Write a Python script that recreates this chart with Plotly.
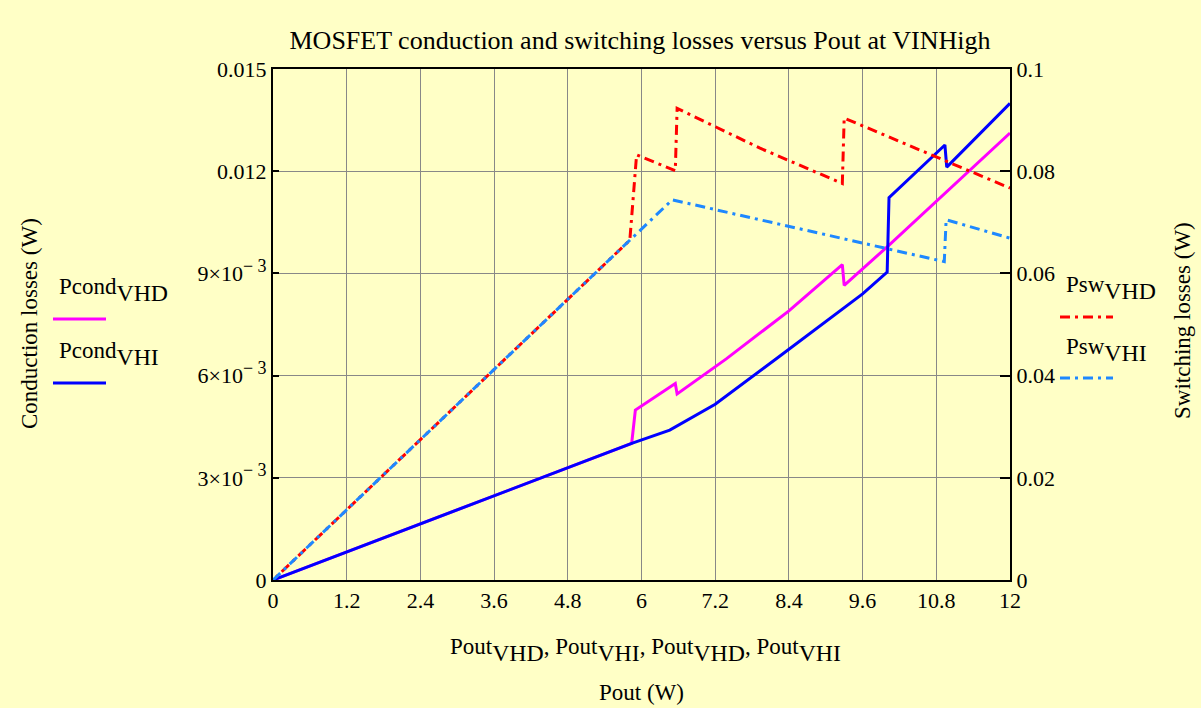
import plotly.graph_objects as go

# Conduction losses (left axis, W)
pout_cond_vhd = [0, 5.84, 5.90, 6.55, 6.58, 7.38, 8.4, 9.27, 9.30, 10.0, 12.0]
pcond_vhd = [0, 0.00401, 0.00499, 0.00577, 0.00546, 0.00649, 0.00790, 0.00926, 0.00865, 0.00978, 0.01312]

pout_cond_vhi = [0, 5.84, 6.46, 7.2, 8.2, 9.0, 9.6, 10.0, 10.03, 10.94, 10.97, 12.0]
pcond_vhi = [0, 0.00401, 0.00440, 0.00516, 0.00650, 0.00760, 0.00840, 0.00904, 0.01122, 0.01277, 0.01212, 0.01399]

# Switching losses (right axis, W)
pout_sw_vhd = [0, 5.81, 5.92, 6.55, 6.58, 7.93, 9.27, 9.30, 12.0]
psw_vhd = [0, 0.0665, 0.0832, 0.0801, 0.0923, 0.0845, 0.0776, 0.0904, 0.0767]

pout_sw_vhi = [0, 5.81, 6.50, 10.93, 10.96, 12.0]
psw_vhi = [0, 0.0665, 0.0744, 0.0623, 0.0705, 0.0669]

x_ticks = [0, 1.2, 2.4, 3.6, 4.8, 6, 7.2, 8.4, 9.6, 10.8, 12]
x_ticktext = ["0", "1.2", "2.4", "3.6", "4.8", "6", "7.2", "8.4", "9.6", "10.8", "12"]
y_ticks = [0, 0.003, 0.006, 0.009, 0.012, 0.015]
EXP = '<sup><span style="font-size:18px">− 3</span></sup>'
y_ticktext = ["0", "3×10" + EXP, "6×10" + EXP, "9×10" + EXP, "0.012", "0.015"]
y2_ticks = [0, 0.02, 0.04, 0.06, 0.08, 0.1]
y2_ticktext = ["0", "0.02", "0.04", "0.06", "0.08", "0.1"]

BG = "#FFFFC6"
FONT = "Liberation Serif, Times New Roman, serif"
DASHDOT = "10px,5px,3px,5px"
# same pattern, shifted, so the red shows between the blue dashes where they overlap
DASHDOT_SHIFT = "0px,4px,3px,5px,10px,1px"

# plot area in pixels (1201x708 page)
L, R, T, B = 273, 1010, 69, 580


def px(x):
    return (x - L) / (R - L)


def py(y):
    return (B - y) / (B - T)


fig = go.Figure()
fig.add_trace(go.Scatter(x=pout_cond_vhd, y=pcond_vhd, mode="lines",
                         line=dict(color="#FF00FF", width=3)))
fig.add_trace(go.Scatter(x=pout_cond_vhi, y=pcond_vhi, mode="lines",
                         line=dict(color="#0000FF", width=3)))
fig.add_trace(go.Scatter(x=pout_sw_vhd, y=psw_vhd, mode="lines", yaxis="y2",
                         line=dict(color="#FF0000", width=3, dash=DASHDOT_SHIFT)))
fig.add_trace(go.Scatter(x=pout_sw_vhi, y=psw_vhi, mode="lines", yaxis="y2",
                         line=dict(color="#1E88FF", width=3, dash=DASHDOT)))

# legend samples drawn by hand, Mathcad style
legend = [
    ("Pcond", "VHD", 57, 290, 53, 106, 319, "#FF00FF", "solid"),
    ("Pcond", "VHI", 57, 354, 53, 106, 383, "#0000FF", "solid"),
    ("Psw", "VHD", 1064, 288, 1060, 1113, 317, "#FF0000", DASHDOT),
    ("Psw", "VHI", 1064, 350, 1060, 1113, 378, "#1E88FF", DASHDOT),
]
annotations = []
shapes = []
for name, sub, tx, ty, x0, x1, ly, color, dash in legend:
    annotations.append(dict(
        text=f'<span style="font-size:23px">{name}</span><sub>{sub}</sub>',
        x=px(tx), y=py(ty), xref="paper", yref="paper",
        xanchor="left", yanchor="middle", showarrow=False,
        font=dict(family=FONT, size=34, color="black")))
    shapes.append(dict(type="line", xref="paper", yref="paper",
                       x0=px(x0), x1=px(x1), y0=py(ly), y1=py(ly),
                       line=dict(color=color, width=3, dash=dash)))

pout = '<span style="font-size:23px">Pout</span><sub>VHD</sub>' \
       '<span style="font-size:23px">, Pout</span><sub>VHI</sub>' \
       '<span style="font-size:23px">, Pout</span><sub>VHD</sub>' \
       '<span style="font-size:23px">, Pout</span><sub>VHI</sub>'
annotations += [
    dict(text=pout, x=px(645), y=py(650), xref="paper", yref="paper",
         xanchor="center", yanchor="middle",
         showarrow=False, font=dict(family=FONT, size=34, color="black")),
    dict(text="Pout (W)", x=px(641), y=py(692), xref="paper", yref="paper",
         xanchor="center", yanchor="middle",
         showarrow=False, font=dict(family=FONT, size=23, color="black")),
    dict(text="Conduction losses (W)", x=px(29), y=py(324), xref="paper", yref="paper",
         xanchor="center", yanchor="middle",
         textangle=-90, showarrow=False, font=dict(family=FONT, size=23, color="black")),
    dict(text="Switching losses (W)", x=px(1182), y=py(321), xref="paper", yref="paper",
         xanchor="center", yanchor="middle",
         textangle=-90, showarrow=False, font=dict(family=FONT, size=23, color="black")),
]

axis_common = dict(showline=True, linecolor="black", linewidth=2, zeroline=False,
                   tickfont=dict(family=FONT, size=22, color="black"))

fig.update_layout(
    width=1201, height=708,
    margin=dict(l=L, r=1201 - R, t=T, b=708 - B),
    paper_bgcolor=BG, plot_bgcolor=BG,
    showlegend=False,
    title=dict(text="MOSFET conduction and switching losses versus Pout at VINHigh",
               x=px(640), xref="paper", xanchor="center", y=1 - 40 / 708, yanchor="middle",
               font=dict(family=FONT, size=26, color="black")),
    xaxis=dict(range=[0, 12], tickvals=x_ticks, ticktext=x_ticktext, mirror=True,
               showgrid=True, gridcolor="#888888", gridwidth=1, ticks="", **axis_common),
    yaxis=dict(range=[0, 0.015], tickvals=y_ticks, ticktext=y_ticktext,
               showgrid=True, gridcolor="#888888", gridwidth=1,
               ticks="inside", ticklen=6, tickcolor="black", tickwidth=2, **axis_common),
    yaxis2=dict(range=[0, 0.1], tickvals=y2_ticks, ticktext=y2_ticktext,
                overlaying="y", side="right", showgrid=False,
                ticks="inside", ticklen=10, tickcolor="black", tickwidth=2, **axis_common),
    annotations=annotations,
    shapes=shapes,
)

# the page is exactly the figure size, so drop the default body margin
fig.write_html("out.html", config={"displayModeBar": False},
               post_script="document.body.style.margin='0';")
